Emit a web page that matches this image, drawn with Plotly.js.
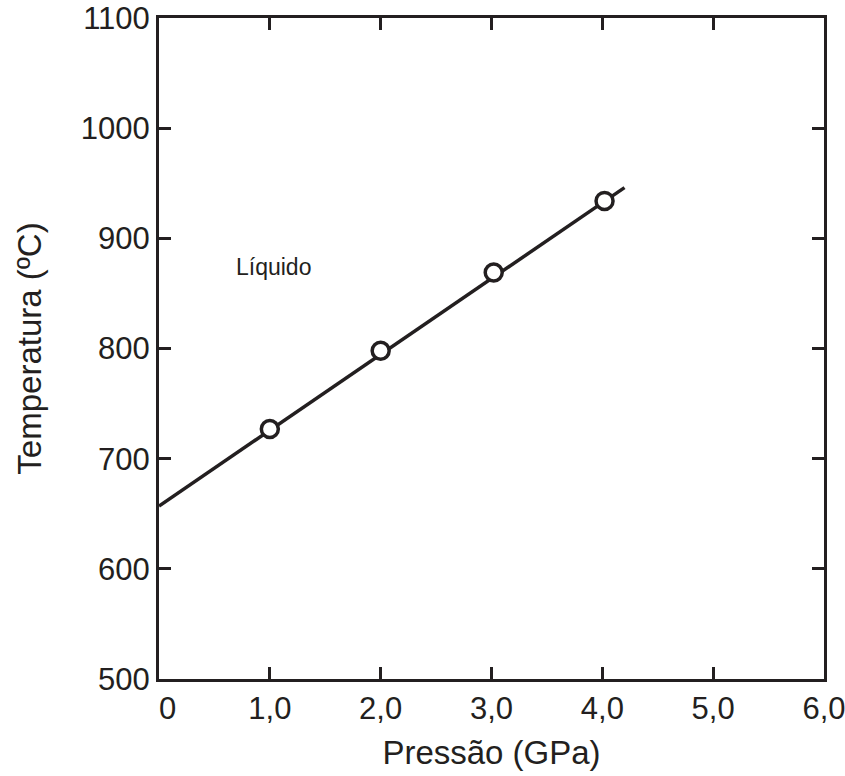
<!DOCTYPE html>
<html>
<head>
<meta charset="utf-8">
<script src="https://cdn.plot.ly/plotly-3.0.1.min.js"></script>
<style>html,body{margin:0;padding:0;background:#fff}#chart{width:845px;height:776px}</style>
</head>
<body>
<div id="chart"></div>
<script>
var pressure = [1.0, 2.0, 3.02, 4.02];
var temperature = [727, 798, 869, 934];
var fitPressure = [0, 4.2];
var fitTemperature = [657, 946];
var xTickVals = [0, 1, 2, 3, 4, 5, 6];
var xTickText = ['\u00a0\u00a00', '1,0', '2,0', '3,0', '4,0', '5,0', '6,0'];
var yTickVals = [500, 600, 700, 800, 900, 1000, 1100];
var labelText = 'Líquido';
var labelPos = [1.03, 874];

var ink = '#231f20';
var traces = [
  {x: fitPressure, y: fitTemperature, mode: 'lines', line: {color: ink, width: 3.5}, hoverinfo: 'skip', cliponaxis: false},
  {x: pressure, y: temperature, mode: 'markers', marker: {symbol: 'circle', size: 17, color: '#ffffff', line: {color: ink, width: 3.5}}}
];
var axisBase = {
  showgrid: false, zeroline: false, showline: true, linecolor: ink, linewidth: 3,
  mirror: 'ticks', ticks: 'inside', ticklen: 12, tickwidth: 3, tickcolor: ink,
  ticklabeloverflow: 'allow',
  tickfont: {family: 'Liberation Sans, Arial, sans-serif', size: 31, color: ink}
};
var layout = {
  width: 845, height: 776,
  margin: {l: 159, r: 21, t: 18, b: 97},
  paper_bgcolor: '#fff', plot_bgcolor: '#fff',
  showlegend: false,
  font: {family: 'Liberation Sans, Arial, sans-serif', color: ink},
  xaxis: Object.assign({}, axisBase, {
    range: [0, 6], tickmode: 'array', tickvals: xTickVals, ticktext: xTickText,
    title: {text: 'Pressão (GPa)', font: {size: 33, color: ink}, standoff: 16}
  }),
  yaxis: Object.assign({}, axisBase, {
    range: [500, 1100], tickmode: 'array', tickvals: yTickVals,
    title: {text: 'Temperatura (ºC)', font: {size: 33, color: ink}, standoff: 30}
  }),
  annotations: [{x: labelPos[0], y: labelPos[1], xref: 'x', yref: 'y', text: labelText, showarrow: false,
    font: {size: 23, color: ink}, xanchor: 'center', yanchor: 'middle'}]
};
Plotly.newPlot('chart', traces, layout, {displayModeBar: false, staticPlot: true});
</script>
</body>
</html>
